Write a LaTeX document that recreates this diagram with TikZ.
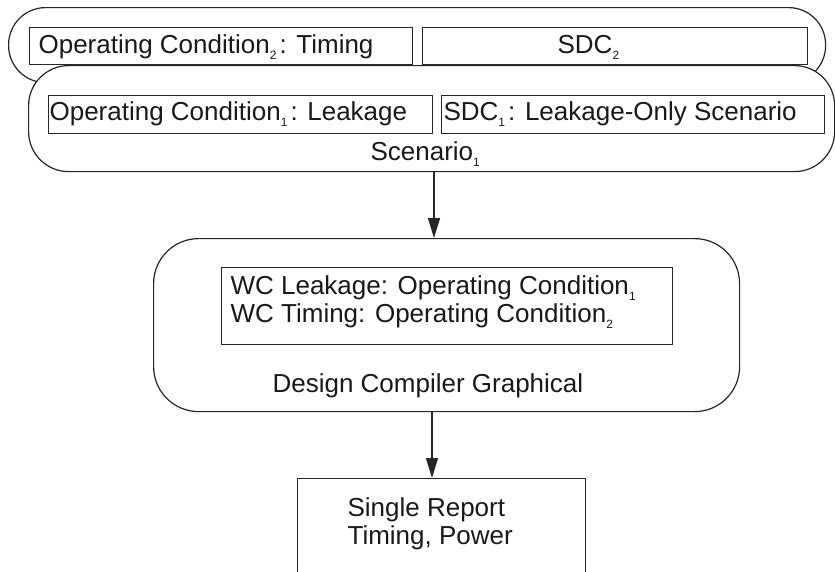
\documentclass[tikz,border=0pt]{standalone}
\usepackage{fontspec}
\setmainfont{Liberation Sans}
\usetikzlibrary{arrows.meta}
\newcommand{\mysub}[1]{\raisebox{-6pt}{\fontsize{12}{12}\selectfont #1}}
\begin{document}
\begin{tikzpicture}[x=1pt,y=-1pt,
  line width=1.2pt, draw=black!85,
  boxshape/.style={draw, rectangle, inner sep=0pt, anchor=north west},
  rbox/.style={draw, rectangle, rounded corners=#1, inner sep=0pt, anchor=north west, fill=white},
  lbl/.style={inner sep=0pt, anchor=base west, font=\fontsize{26}{28}\selectfont, text=black!90},
  arr/.style={-{Triangle[length=20pt,width=12pt]}, line width=1.2pt}]
\clip (0,0) rectangle (835,571);
\fill[white] (0,0) rectangle (835,571);
% Scenario 2
\node[rbox=37pt, minimum width=817pt, minimum height=75pt] (s2) at (8,7) {};
\node[boxshape, minimum width=383pt, minimum height=37pt] (oc2) at (29,27) {};
\node[boxshape, minimum width=385pt, minimum height=37pt] (sdc2) at (422,27) {};
\node[lbl] (toc2) at (38,53) {Operating Condition\mysub{2}\hspace{3pt}: Timing};
\node[lbl] (tsdc2) at (557,53) {SDC\mysub{2}};
% Scenario 1
\node[rbox=40pt, minimum width=806pt, minimum height=106pt] (s1) at (28,65) {};
\node[boxshape, minimum width=384pt, minimum height=38pt] (oc1) at (48,95) {};
\node[boxshape, minimum width=383pt, minimum height=38pt] (sdc1) at (441,95) {};
\node[lbl] (toc1) at (49,120) {Operating Condition\mysub{1}\hspace{3pt}: Leakage};
\node[lbl] (tsdc1) at (443,120) {SDC\mysub{1}\hspace{3pt}: Leakage-Only Scenario};
\node[lbl] (ts1) at (370,160) {Scenario\mysub{1}};
% Design Compiler Graphical
\node[rbox=45pt, minimum width=586pt, minimum height=173pt] (dcg) at (153,238) {};
\node[boxshape, minimum width=451pt, minimum height=77pt] (wc) at (221,267) {};
\node[lbl] (wc1) at (230,294) {WC Leakage: Operating Condition\mysub{1}};
\node[lbl] (wc2) at (230,322) {WC Timing: Operating Condition\mysub{2}};
\node[lbl] (tdcg) at (272,392) {Design Compiler Graphical};
% Single report
\node[boxshape, minimum width=288pt, minimum height=120pt] (rep) at (297,478) {};
\node[lbl] (rep1) at (347,516) {Single Report};
\node[lbl] (rep2) at (347,544) {Timing, Power};
% arrows
\coordinate (a1) at (434,0);
\coordinate (a2) at (432,0);
\draw[arr] (s1.south -| a1) -- (dcg.north -| a1);
\draw[arr] (dcg.south -| a2) -- (rep.north -| a2);
\end{tikzpicture}
\end{document}
